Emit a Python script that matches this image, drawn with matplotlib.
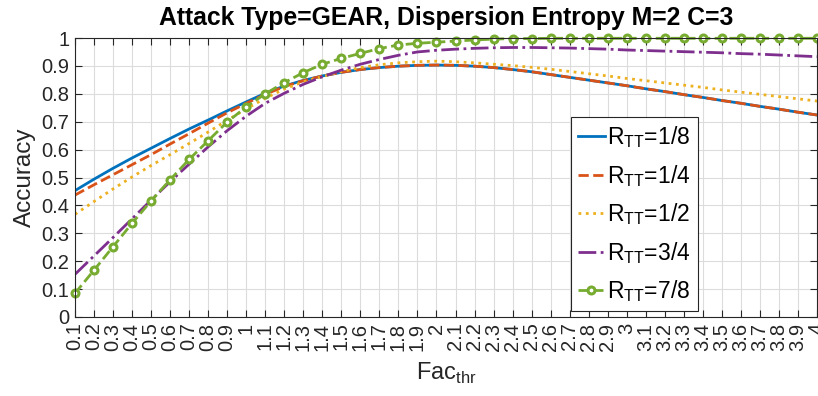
import numpy as np
import matplotlib
matplotlib.use('Agg')
import matplotlib.pyplot as plt

plt.rcParams['font.family'] = ['Liberation Sans', 'DejaVu Sans']
plt.rcParams['mathtext.fontset'] = 'custom'
plt.rcParams['mathtext.rm'] = 'Liberation Sans'

# threshold factor values
fac_thr = [round(0.1 * i, 1) for i in range(1, 41)]

acc_1_8 = [0.453, 0.494, 0.533, 0.570, 0.605, 0.640, 0.674, 0.706, 0.739, 0.771,
           0.802, 0.828, 0.848, 0.864, 0.877, 0.887, 0.894, 0.899, 0.902, 0.903,
           0.902, 0.899, 0.894, 0.887, 0.879, 0.869, 0.859, 0.849, 0.839, 0.829,
           0.818, 0.808, 0.797, 0.787, 0.776, 0.766, 0.755, 0.745, 0.734, 0.724]
acc_1_4 = [0.437, 0.474, 0.510, 0.546, 0.582, 0.620, 0.657, 0.695, 0.732, 0.766,
           0.798, 0.826, 0.847, 0.864, 0.877, 0.887, 0.894, 0.899, 0.902, 0.903,
           0.902, 0.899, 0.894, 0.887, 0.879, 0.869, 0.859, 0.849, 0.839, 0.829,
           0.818, 0.808, 0.797, 0.787, 0.776, 0.766, 0.755, 0.745, 0.734, 0.724]
acc_1_2 = [0.368, 0.414, 0.459, 0.502, 0.543, 0.582, 0.622, 0.663, 0.705, 0.746,
           0.784, 0.817, 0.843, 0.862, 0.880, 0.894, 0.904, 0.911, 0.915, 0.917,
           0.915, 0.911, 0.906, 0.901, 0.895, 0.888, 0.880, 0.872, 0.864, 0.855,
           0.847, 0.839, 0.831, 0.823, 0.814, 0.806, 0.798, 0.790, 0.782, 0.774]
acc_3_4 = [0.153, 0.219, 0.285, 0.352, 0.419, 0.485, 0.548, 0.610, 0.668, 0.720,
           0.766, 0.802, 0.834, 0.861, 0.885, 0.906, 0.923, 0.938, 0.950, 0.956,
           0.960, 0.963, 0.965, 0.966, 0.966, 0.965, 0.964, 0.962, 0.960, 0.957,
           0.955, 0.953, 0.951, 0.949, 0.947, 0.944, 0.942, 0.939, 0.936, 0.933]
acc_7_8 = [0.085, 0.168, 0.252, 0.336, 0.416, 0.492, 0.565, 0.632, 0.699, 0.753,
           0.800, 0.840, 0.876, 0.906, 0.927, 0.945, 0.962, 0.975, 0.981, 0.985,
           0.989, 0.993, 0.996, 0.998, 0.998, 0.999, 0.999, 0.999, 0.999, 0.999,
           0.999, 0.999, 0.999, 0.999, 0.999, 0.999, 0.999, 0.999, 0.999, 0.999]

labels = [r'R$_{\mathregular{TT}}$=1/8', r'R$_{\mathregular{TT}}$=1/4',
          r'R$_{\mathregular{TT}}$=1/2', r'R$_{\mathregular{TT}}$=3/4',
          r'R$_{\mathregular{TT}}$=7/8']

fig = plt.figure(figsize=(8.18, 3.96), dpi=100)
ax = fig.add_axes([75 / 818, 1 - 317 / 396, 742 / 818, 279 / 396])

lw = 2.0
ax.plot(fac_thr, acc_1_8, '-', color='#0072BD', lw=lw, label=labels[0])
ax.plot(fac_thr, acc_1_4, '--', color='#D95319', lw=lw, label=labels[1])
ax.plot(fac_thr, acc_1_2, ':', color='#EDB120', lw=lw, label=labels[2])
ax.plot(fac_thr, acc_3_4, '-.', color='#7E2F8E', lw=lw, label=labels[3])
ax.plot(fac_thr, acc_7_8, '--', color='#77AC30', lw=lw, marker='o', ms=5,
        mew=2.2, mfc='white', label=labels[4], clip_on=False)

ax.set_xlim(0.1, 4.0)
ax.set_ylim(0, 1)
ax.set_xticks(fac_thr)
ax.set_xticklabels(['%g' % v for v in fac_thr], rotation=90)
ax.set_yticks(np.arange(0, 1.01, 0.1))
ax.set_yticklabels(['%g' % round(v, 1) for v in np.arange(0, 1.01, 0.1)])
ax.tick_params(direction='in', length=5, width=0.8, colors='#262626',
               labelsize=14.5, top=True, right=True, pad=4)
ax.grid(True, color='#dcdcdc', lw=0.8)
ax.set_axisbelow(True)
for s in ax.spines.values():
    s.set_color('#262626')
    s.set_linewidth(0.8)

ax.set_title('Attack Type=GEAR, Dispersion Entropy M=2 C=3',
             fontsize=17.8, fontweight='bold', pad=9)
ax.set_xlabel(r'Fac$_{\mathregular{thr}}$', fontsize=17, color='#262626', labelpad=7)
ax.set_ylabel('Accuracy', fontsize=17.5, color='#262626', labelpad=4)

leg = ax.legend(loc='lower left', bbox_to_anchor=(0.668, 0.0215), fontsize=16.5,
                fancybox=False, framealpha=1, edgecolor='#262626',
                handlelength=1.2, handletextpad=0.1, labelspacing=0.55,
                borderpad=0.3, borderaxespad=0)
leg.get_frame().set_linewidth(0.8)

fig.savefig('out.png', dpi=100)
